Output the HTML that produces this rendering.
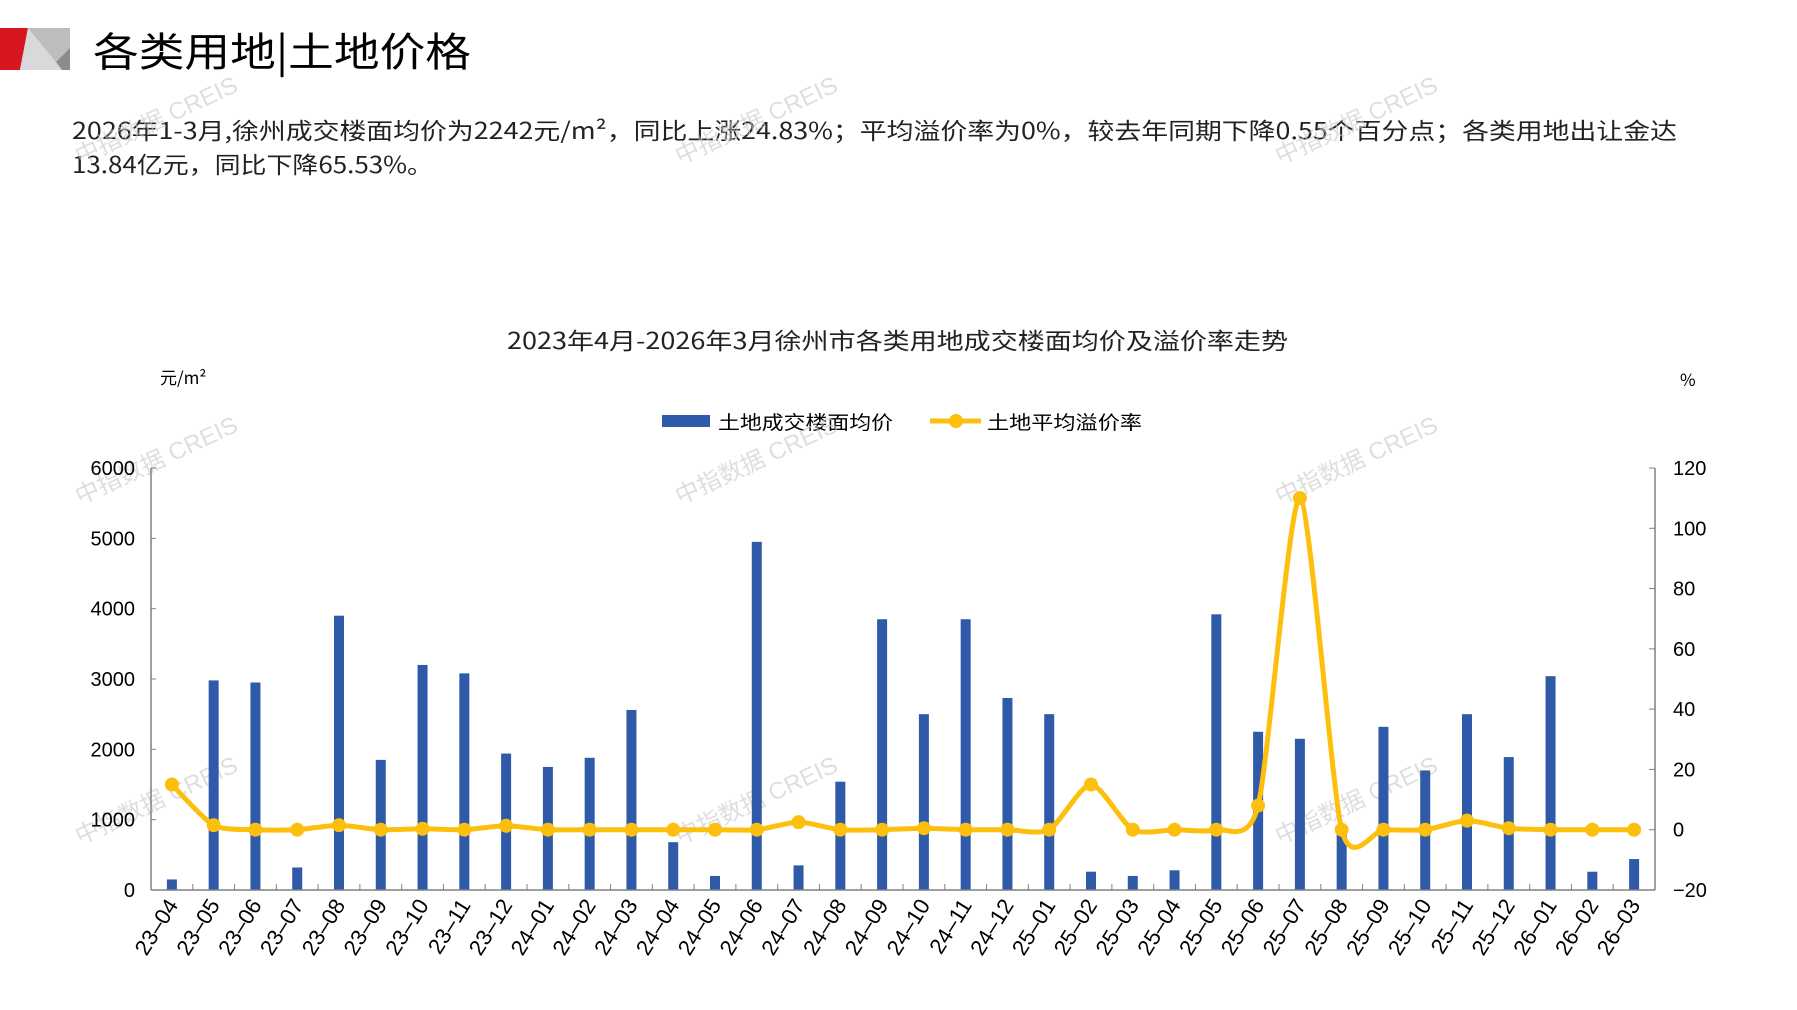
<!DOCTYPE html>
<html><head><meta charset="utf-8"><style>
html,body{margin:0;padding:0;background:#fff;}
svg{display:block;font-family:"Liberation Sans","Noto Sans CJK SC",sans-serif;}
.cj{font-family:"Noto Sans CJK SC","WenQuanYi Zen Hei",sans-serif;}
</style></head><body>
<svg id="s" width="1797" height="1010" viewBox="0 0 1797 1010" xmlns="http://www.w3.org/2000/svg">
<polygon points="0,28 28,28 20,70 0,70" fill="#d7171f"/>
<polygon points="28,28 70,28 70,70 20,70" fill="#d9d9d9"/>
<polygon points="28,28 70,28 70,48 56,62" fill="#bdbdbd"/>
<polygon points="56,62 70,48 70,70 62,70" fill="#8c8c8c"/>
<text x="93" y="66" font-size="40" class="cj" textLength="378" lengthAdjust="spacingAndGlyphs">各类用地|土地价格</text>
<text x="72" y="139" font-size="23" class="cj" fill="#222" textLength="1605" lengthAdjust="spacingAndGlyphs">2026年1-3月,徐州成交楼面均价为2242元/m²，同比上涨24.83%；平均溢价率为0%，较去年同期下降0.55个百分点；各类用地出让金达</text>
<text x="72" y="173" font-size="23" class="cj" fill="#222" textLength="361" lengthAdjust="spacingAndGlyphs">13.84亿元，同比下降65.53%。</text>
<text x="507" y="349" font-size="23" class="cj" fill="#222" textLength="781" lengthAdjust="spacingAndGlyphs">2023年4月-2026年3月徐州市各类用地成交楼面均价及溢价率走势</text>
<text x="160" y="384" font-size="17" class="cj">元/m²</text>
<text x="1680" y="386" font-size="17" class="cj">%</text>
<rect x="662" y="415" width="48" height="12" fill="#2e5aa7"/>
<text x="718" y="429" font-size="19" class="cj" textLength="175" lengthAdjust="spacingAndGlyphs">土地成交楼面均价</text>
<line x1="930" y1="421" x2="981" y2="421" stroke="#fcbf0d" stroke-width="5"/>
<circle cx="956" cy="421" r="7" fill="#fcbf0d"/>
<text x="987" y="429" font-size="19" class="cj" textLength="155" lengthAdjust="spacingAndGlyphs">土地平均溢价率</text>
<g id="g"></g>
</svg>
<script>
var NS="http://www.w3.org/2000/svg",g=document.getElementById('g');
function el(t,a,txt){var e=document.createElementNS(NS,t);for(var k in a)e.setAttribute(k,a[k]);if(txt!=null)e.textContent=txt;g.appendChild(e);return e;}
var L=151,R=1655,T=468,B=890,n=36,w=(R-L)/n;
var labels=[],y=23,m=4;for(var i=0;i<n;i++){labels.push(y+'-'+(m<10?'0'+m:m));m++;if(m>12){m=1;y++;}}
var bars=[150,2980,2950,320,3900,1850,3200,3080,1940,1750,1880,2560,680,200,4950,350,1540,3850,2500,3850,2730,2500,260,200,280,3920,2250,2150,820,2320,1700,2500,1890,3040,260,440];
var rate=[15,1.5,0,0,1.5,0,0.3,0,1.3,0,0,0,0,0,0,2.5,0,0,0.5,0,0,0,15,0,0,0,8,110,0,0,0,3,0.5,0,0,0];
function yl(v){return B-v/6000*(B-T);} function yr(v){return B-(v+20)/140*(B-T);}
[[80,505],[680,505],[1280,505],[80,845],[680,845],[1280,845],[80,165],[680,165],[1280,165]].forEach(function(p){
 el('text',{x:p[0],y:p[1],'font-size':24,fill:'#c8c8c8','fill-opacity':0.6,transform:'rotate(-25 '+p[0]+' '+p[1]+')'},'中指数据 CREIS');});
for(var i=0;i<n;i++){var cx=L+w*(i+0.5);el('rect',{x:cx-5,y:yl(bars[i]),width:10,height:B-yl(bars[i]),fill:'#2e5aa7'});}
el('line',{x1:L,y1:T,x2:L,y2:B,stroke:'#808080','stroke-width':1.5});
el('line',{x1:R,y1:T,x2:R,y2:B,stroke:'#808080','stroke-width':1.5});
el('line',{x1:L,y1:B,x2:R,y2:B,stroke:'#808080','stroke-width':1.5});
for(var k=0;k<=6;k++){var yy=yl(k*1000);el('line',{x1:L,y1:yy,x2:L+5,y2:yy,stroke:'#808080'});el('text',{x:135,y:yy+7,'font-size':20,'text-anchor':'end'},String(k*1000));}
for(var k=-20;k<=120;k+=20){var yy=yr(k);el('line',{x1:R-6,y1:yy,x2:R,y2:yy,stroke:'#808080'});el('text',{x:1673,y:yy+7,'font-size':20},(k<0?'\u221220':String(k)));}
for(var i=1;i<n;i++){var x=L+w*i;el('line',{x1:x,y1:B,x2:x,y2:B-6,stroke:'#808080'});}
for(var i=0;i<n;i++){var cx=L+w*(i+0.5)+7,cy=905;el('text',{x:cx,y:cy,'font-size':22,'text-anchor':'end',transform:'rotate(-58 '+cx+' '+cy+')'},labels[i].replace('-','\u2013'));}
var P=rate.map(function(v,i){return [L+w*(i+0.5),yr(v)];});
var d='M'+P[0][0]+','+P[0][1],t=0.12;
for(var i=0;i<n-1;i++){var p0=P[Math.max(0,i-1)],p1=P[i],p2=P[i+1],p3=P[Math.min(n-1,i+2)];
 d+=' C'+(p1[0]+(p2[0]-p0[0])*t)+','+(p1[1]+(p2[1]-p0[1])*t)+' '+(p2[0]-(p3[0]-p1[0])*t)+','+(p2[1]-(p3[1]-p1[1])*t)+' '+p2[0]+','+p2[1];}
el('path',{d:d,fill:'none',stroke:'#fcbf0d','stroke-width':5,'stroke-linejoin':'round'});
P.forEach(function(p){el('circle',{cx:p[0],cy:p[1],r:7,fill:'#fcbf0d'});});
</script>
</body></html>
